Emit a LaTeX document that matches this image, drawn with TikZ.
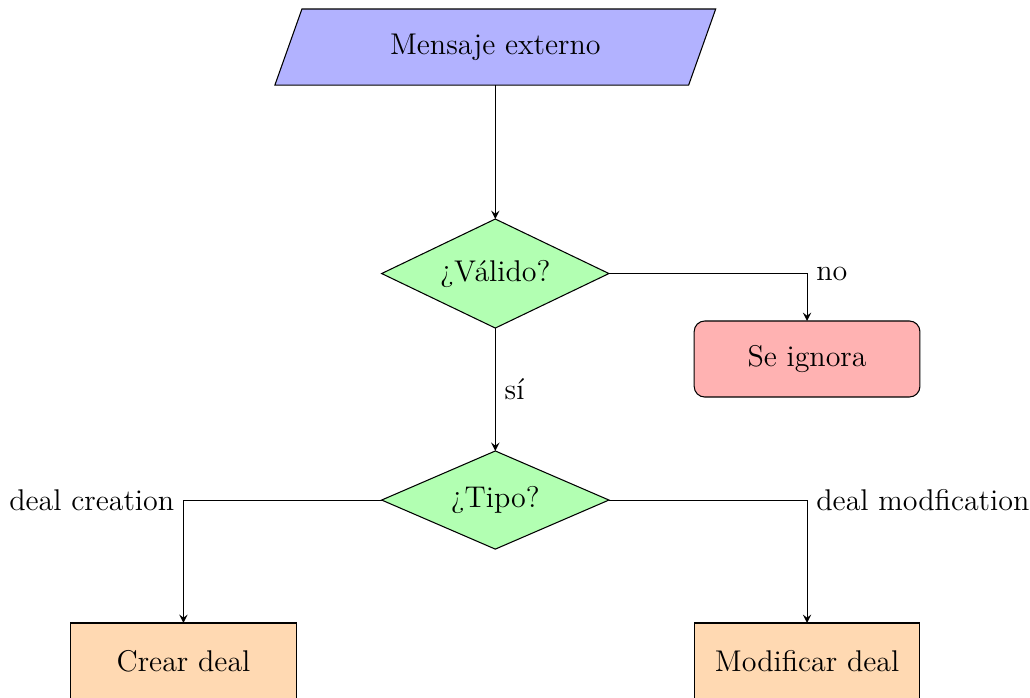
\documentclass[tikz,border=0pt]{standalone}
\usetikzlibrary{shapes.geometric,arrows,backgrounds}
\begin{document}
\begin{tikzpicture}[
  font=\fontsize{11.3}{13.5}\selectfont,
  >=stealth,
  io/.style={rectangle, minimum width=5.48cm, minimum height=1.007cm, inner sep=0pt, outer sep=0pt},
  iofill/.style={draw, fill=blue!30},
  decision/.style={diamond, aspect=3, draw, fill=green!30, minimum width=3.01cm, inner sep=0pt, outer sep=0pt},
  ignored/.style={rectangle, rounded corners, draw, fill=red!30, minimum width=2.99cm, minimum height=1.007cm, outer sep=0pt},
  process/.style={rectangle, draw, fill=orange!30, minimum width=2.99cm, minimum height=1.007cm, outer sep=0pt},
  conn/.style={draw, ->}
]
\useasboundingbox (0,0) rectangle (13.642,-9.232);
\node[io] (msg) at (6.56,-0.623) {Mensaje externo};
\begin{scope}[on background layer]
  \path[iofill] ([xshift=-0.179cm]msg.south west) -- ([xshift=-0.179cm]msg.south east)
     -- ([xshift=0.179cm]msg.north east) -- ([xshift=0.179cm]msg.north west) -- cycle;
\end{scope}
\node[decision, minimum height=1.444cm] (valid) at (6.56,-3.623) {¿Válido?};
\node[ignored] (ign) at (10.689,-4.755) {Se ignora};
\node[decision, minimum height=1.30cm] (tipo) at (6.56,-6.623) {¿Tipo?};
\node[process] (crear) at (2.430,-8.755) {Crear deal};
\node[process] (mod) at (10.689,-8.755) {Modificar deal};

\draw[conn] (msg) -- (valid);
\draw[conn] (valid.east) -| node[pos=0.5, right] {no} (ign.north);
\draw[conn] (valid.south) -- node[right] {sí} (tipo.north);
\draw[conn] (tipo.west) -| node[pos=0.5, left] {deal creation} (crear.north);
\draw[conn] (tipo.east) -| node[pos=0.5, right] {deal modfication} (mod.north);
\end{tikzpicture}
\end{document}
